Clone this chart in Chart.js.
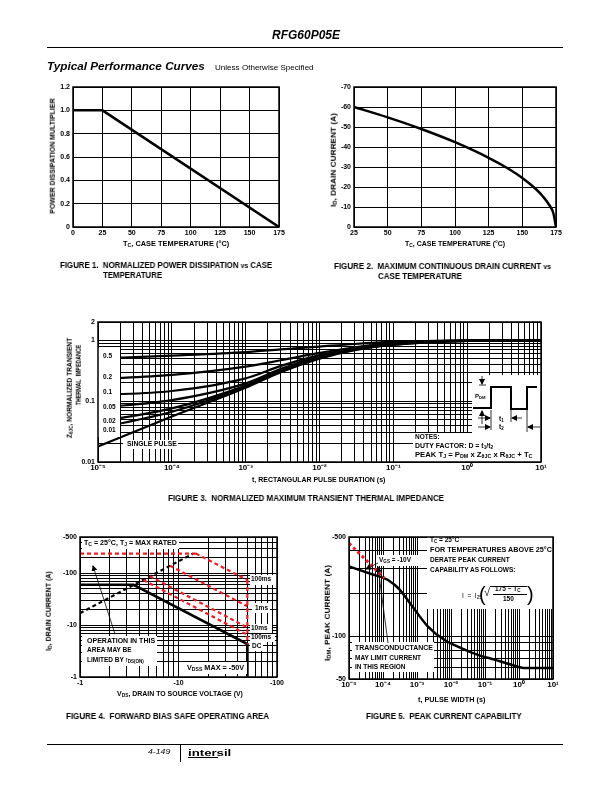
<!DOCTYPE html>
<html>
<head>
<meta charset="utf-8">
<script src="https://cdn.jsdelivr.net/npm/chart.js@4.4.0/dist/chart.umd.min.js"></script>
<style>
  body { margin:0; width:612px; height:792px; position:relative; background:#fff; overflow:hidden;
         font-family:"Liberation Sans", Arial, sans-serif; color:#000; }
  canvas { position:absolute; z-index:1; }
  .t { position:absolute; z-index:3; white-space:nowrap; line-height:1; transform-origin:0 0; will-change:transform; }
  .t sub { font-size:70%; vertical-align:-0.3em; line-height:0; }
  .t sup { font-size:65%; vertical-align:0.45em; line-height:0; }
  .rule { position:absolute; background:#000; z-index:3; }
  svg { position:absolute; left:0; top:0; z-index:2; }
</style>
</head>
<body>
<script>
// ---- figure 1: power dissipation multiplier vs case temperature
const fig1Temp = [0, 25, 175];
const fig1Mult = [1.0, 1.0, 0];
const fig1XVals = [0, 25, 50, 75, 100, 125, 150, 175];
const fig1XTicks = ['0', '25', '50', '75', '100', '125', '150', '175'];
const fig1YVals = [0, 0.2, 0.4, 0.6, 0.8, 1.0, 1.2];
const fig1YTicks = ['0', '0.2', '0.4', '0.6', '0.8', '1.0', '1.2'];

// ---- figure 2: max continuous drain current vs case temperature
const fig2Temp = [25, 50, 75, 100, 125, 140, 150, 160, 165, 170, 173, 175];
const fig2Current = [-60, -54.8, -49, -42.4, -34.6, -29, -24.5, -19, -15.5, -11, -7, 0];
const fig2XVals = [25, 50, 75, 100, 125, 150, 175];
const fig2XTicks = ['25', '50', '75', '100', '125', '150', '175'];
const fig2YVals = [-70, -60, -50, -40, -30, -20, -10, 0];
const fig2YTicks = ['-70', '-60', '-50', '-40', '-30', '-20', '-10', '0'];

// ---- figure 3: normalized transient thermal impedance
const fig3Time = [1e-5, 1e-4, 1e-3, 3e-3, 1e-2, 3e-2, 1e-1, 1, 10];
const fig3D05 = [0.50, 0.56, 0.64, 0.71, 0.79, 0.87, 0.94, 1.0, 1.0];
const fig3D02 = [0.23, 0.27, 0.37, 0.47, 0.62, 0.77, 0.90, 0.99, 1.0];
const fig3D01 = [0.126, 0.147, 0.237, 0.38, 0.57, 0.74, 0.88, 0.99, 1.0];
const fig3D005 = [0.078, 0.104, 0.196, 0.34, 0.54, 0.72, 0.87, 0.98, 1.0];
const fig3D002 = [0.046, 0.076, 0.18, 0.32, 0.52, 0.71, 0.86, 0.98, 1.0];
const fig3D001 = [0.036, 0.067, 0.173, 0.31, 0.51, 0.70, 0.85, 0.98, 1.0];
const fig3Single = [0.018, 0.056, 0.166, 0.30, 0.50, 0.69, 0.84, 0.98, 1.0];
const fig3XVals = [1e-5, 1e-4, 1e-3, 1e-2, 1e-1, 1, 10];
const fig3XTicks = ['10⁻⁵', '10⁻⁴', '10⁻³', '10⁻²', '10⁻¹', '10⁰', '10¹'];
const fig3YVals = [0.01, 0.1, 1, 2];
const fig3YTicks = ['0.01', '0.1', '1', '2'];

// ---- figure 4: forward bias safe operating area (V, A)
const fig4DcV = [1, 3.5, 50, 50];
const fig4DcI = [-60, -60, -4.3, -1];
const fig4RdsV = [1, 14];
const fig4RdsI = [-17, -238];
const fig4MaxV = [1, 15];
const fig4MaxI = [-240, -240];
const fig4Us100V = [15, 50];
const fig4Us100I = [-240, -74];
const fig4Ms1V = [8.2, 50];
const fig4Ms1I = [-140, -23];
const fig4Ms10V = [5.1, 50];
const fig4Ms10I = [-88, -9];
const fig4Ms100V = [4.4, 50];
const fig4Ms100I = [-74, -6.5];
const fig4VdssV = [50, 50];
const fig4VdssI = [-74, -4.3];
const fig4XVals = [1, 10, 100];
const fig4XTicks = ['-1', '-10', '-100'];
const fig4YVals = [1, 10, 100, 500];
const fig4YTicks = ['-1', '-10', '-100', '-500'];

// ---- figure 5: peak current capability
const fig5Time = [1e-5, 5e-5, 1.1e-4, 1.4e-4, 3e-4, 6.8e-4, 2.1e-3, 6.5e-3, 2e-2, 6.2e-2, 0.19, 0.6, 1.5, 10];
const fig5Current = [-310, -272, -256, -249, -215, -166, -117, -94, -82.6, -74, -68.4, -63, -59.7, -59.7];
const fig5GfsTime = [1e-5, 1.1e-4];
const fig5GfsCurrent = [-452, -256];
const fig5XVals = [1e-5, 1e-4, 1e-3, 1e-2, 1e-1, 1, 10];
const fig5XTicks = ['10⁻⁵', '10⁻⁴', '10⁻³', '10⁻²', '10⁻¹', '10⁰', '10¹'];
const fig5YVals = [50, 100, 500];
const fig5YTicks = ['-50', '-100', '-500'];

const RED = '#ee1c24';
const PAD = { l: 36, t: 8, r: 14, b: 16 };
const FONT = '"Liberation Sans", Arial, sans-serif';

function logGrid(min, max) {
  const out = [];
  for (let e = Math.floor(Math.log10(min)); e <= Math.ceil(Math.log10(max)); e++) {
    for (let k = 1; k < 10; k++) {
      const v = +(k * Math.pow(10, e)).toPrecision(6);
      if (v >= min * 0.999999 && v <= max * 1.000001) out.push(v);
    }
  }
  return out;
}

function labeler(vals, labels, log) {
  return v => {
    const i = vals.findIndex(t => log ? Math.abs(Math.log10(t) - Math.log10(v)) < 1e-6 : Math.abs(t - v) < 1e-9);
    return i < 0 ? '' : labels[i];
  };
}

function axis(type, min, max, grid, labelFn, isY, pad, extra, fsize) {
  return Object.assign({
    type, min, max,
    afterBuildTicks: s => { s.ticks = grid.map(v => ({ value: v })); },
    afterFit: s => { if (isY) s.width = PAD.l; else s.height = PAD.b; },
    grid: { color: '#000', lineWidth: 1, drawTicks: false },
    border: { display: false },
    ticks: {
      autoSkip: false, maxRotation: 0, padding: pad, color: '#000',
      font: { family: FONT, weight: 'bold', size: fsize || 7 },
      callback: v => labelFn(v)
    }
  }, extra || {});
}

function series(xs, ys, color, width, dash, smooth) {
  return {
    data: xs.map((x, i) => ({ x, y: ys[i] })),
    borderColor: color, borderWidth: width, borderDash: dash || [],
    pointRadius: 0, fill: false, tension: 0,
    cubicInterpolationMode: smooth ? 'monotone' : 'default'
  };
}

const framePlugin = {
  id: 'frame',
  afterDatasetsDraw(chart) {
    const a = chart.chartArea, c = chart.ctx;
    c.save(); c.strokeStyle = '#000'; c.lineWidth = 1.5;
    c.strokeRect(a.left, a.top, a.right - a.left, a.bottom - a.top);
    c.restore();
  }
};

// white label boxes: drawn over the grid and the curve ends, under the frame
function maskPlugin(rects, ox, oy) {
  return {
    id: 'mask',
    afterDatasetsDraw(chart) {
      const c = chart.ctx;
      c.save(); c.fillStyle = '#fff';
      rects.forEach(r => c.fillRect(r[0] - ox, r[1] - oy, r[2] - r[0], r[3] - r[1]));
      c.restore();
    }
  };
}

function plotChart(box, xScale, yScale, datasets, masks) {
  const W = box.w + PAD.l + PAD.r, H = box.h + PAD.t + PAD.b;
  const cv = document.createElement('canvas');
  cv.width = W; cv.height = H;
  cv.style.left = (box.l - PAD.l) + 'px';
  cv.style.top = (box.t - PAD.t) + 'px';
  cv.style.width = W + 'px';
  cv.style.height = H + 'px';
  document.body.appendChild(cv);
  return new Chart(cv, {
    type: 'line',
    data: { datasets },
    options: {
      responsive: false, animation: false, events: [],
      layout: { autoPadding: false, padding: { left: 0, top: PAD.t, right: PAD.r, bottom: 0 } },
      plugins: { legend: { display: false }, tooltip: { enabled: false } },
      scales: { x: xScale, y: yScale }
    },
    plugins: [maskPlugin(masks || [], box.l - PAD.l, box.t - PAD.t), framePlugin]
  });
}

const abs = a => a.map(v => Math.abs(v));

// figure 1
plotChart({ l: 73, t: 87, w: 206, h: 140 },
  axis('linear', 0, 175, fig1XVals, labeler(fig1XVals, fig1XTicks), false, 2),
  axis('linear', 0, 1.2, fig1YVals, labeler(fig1YVals, fig1YTicks), true, 3),
  [series(fig1Temp, fig1Mult, '#000', 2.5)]);

// figure 2
plotChart({ l: 354, t: 87, w: 202, h: 140 },
  axis('linear', 25, 175, fig2XVals, labeler(fig2XVals, fig2XTicks), false, 2),
  axis('linear', -70, 0, fig2YVals, labeler(fig2YVals, fig2YTicks), true, 3, { reverse: true }),
  [series(fig2Temp, fig2Current, '#000', 2.5, null, true)]);

// figure 3
plotChart({ l: 98, t: 322, w: 443, h: 140 },
  axis('logarithmic', 1e-5, 10, logGrid(1e-5, 10), labeler(fig3XVals, fig3XTicks, true), false, 1, null, 8),
  axis('logarithmic', 0.01, 2, logGrid(0.01, 2), labeler(fig3YVals, fig3YTicks, true), true, 3),
  [fig3D05, fig3D02, fig3D01, fig3D005, fig3D002, fig3D001, fig3Single]
    .map(z => series(fig3Time, z, '#000', 2.2, null, true)),
  [[98, 348, 120, 437], [123, 440, 178, 449], [472, 375, 541, 433], [413, 433, 541, 462]]);

// figure 4
plotChart({ l: 80, t: 537, w: 197, h: 140 },
  axis('logarithmic', 1, 100, logGrid(1, 100), labeler(fig4XVals, fig4XTicks, true), false, 2),
  axis('logarithmic', 1, 500, logGrid(1, 500), labeler(fig4YVals, fig4YTicks, true), true, 3),
  [
    series(fig4MaxV, abs(fig4MaxI), RED, 2.2, [4, 3]),
    series(fig4Us100V, abs(fig4Us100I), RED, 2.2, [4, 3]),
    series(fig4Ms1V, abs(fig4Ms1I), RED, 2.2, [4, 3]),
    series(fig4Ms10V, abs(fig4Ms10I), RED, 2.2, [4, 3]),
    series(fig4Ms100V, abs(fig4Ms100I), RED, 2.2, [4, 3]),
    series(fig4VdssV, abs(fig4VdssI), RED, 2.2, [4, 3]),
    series(fig4RdsV, abs(fig4RdsI), '#000', 2.2, [4, 3]),
    series(fig4DcV, abs(fig4DcI), '#000', 2.7)
  ],
  [[82, 538, 179, 549], [82, 636, 157, 666], [183, 662, 247, 674],
   [250, 575, 277, 585], [252, 603, 270, 613], [250, 624, 272, 633], [250, 634, 275, 642], [250, 642, 263, 651]]);

// figure 5
plotChart({ l: 349, t: 537, w: 204, h: 142 },
  axis('logarithmic', 1e-5, 10, logGrid(1e-5, 10), labeler(fig5XVals, fig5XTicks, true), false, 1, null, 8),
  axis('logarithmic', 50, 500, logGrid(50, 500), labeler(fig5YVals, fig5YTicks, true), true, 3),
  [
    series(fig5GfsTime, abs(fig5GfsCurrent), RED, 3, [3, 3]),
    series(fig5Time, abs(fig5Current), '#000', 2.5, null, true)
  ],
  [[427, 537, 553, 609], [376, 555, 426, 566], [352, 642, 434, 672]]);

// ---- text layer
function txt(html, x, y, o) {
  o = o || {};
  const size = o.size || 6.5;
  const el = document.createElement('span');
  el.className = 't';
  el.innerHTML = html;
  el.style.fontSize = size + 'px';
  el.style.fontWeight = o.nb ? 'normal' : 'bold';
  el.style.fontStyle = o.it ? 'italic' : 'normal';
  if (o.narrow) el.style.fontFamily = '"Liberation Sans Narrow", "Liberation Sans", Arial, sans-serif';
  document.body.appendChild(el);
  const w = el.offsetWidth, h = el.offsetHeight;
  const s = o.w ? o.w / w : 1;
  if (o.rot) {
    el.style.left = x + 'px'; el.style.top = y + 'px';
    el.style.transform = `rotate(-90deg) scaleX(${s}) translate(-50%,-50%)`;
  } else {
    const left = o.anchor === 'c' ? x - w * s / 2 : x;
    el.style.left = left + 'px'; el.style.top = (y - h / 2) + 'px';
    el.style.transform = `scaleX(${s})`;
  }
  return el;
}
function rule(l, t, w, h) {
  const d = document.createElement('div');
  d.className = 'rule';
  Object.assign(d.style, { left: l + 'px', top: t + 'px', width: w + 'px', height: h + 'px' });
  document.body.appendChild(d);
}

// page header / footer
txt('RFG60P05E', 306, 35, { size: 12, it: true, anchor: 'c', w: 68 });
rule(47, 47, 516, 1);
txt('Typical Performance Curves', 47, 67, { size: 11.5, it: true, w: 158 });
txt('Unless Otherwise Specified', 215, 68, { size: 6.5, nb: true, w: 98 });
rule(47, 744, 516, 1);
rule(180, 745, 1, 17);
txt('4-149', 148, 752, { size: 7.5, it: true, nb: true, w: 22 });
txt('intersil', 188, 753, { size: 9, w: 44 });
rule(188, 757, 30, 1.2);

// figure 1 text
txt('POWER DISSIPATION MULTIPLIER', 53, 156, { rot: true, w: 115 });
txt('T<sub>C</sub>, CASE TEMPERATURE (°C)', 176, 244.5, { anchor: 'c', w: 106 });
txt('FIGURE 1.&nbsp; NORMALIZED POWER DISSIPATION <span style="font-size:85%">vs</span> CASE', 60, 265.5, { size: 8.5, narrow: true, w: 212 });
txt('TEMPERATURE', 103, 275.5, { size: 8.5, narrow: true, w: 59 });

// figure 2 text
txt('I<sub>D</sub>, DRAIN CURRENT (A)', 334, 160, { rot: true, w: 94 });
txt('T<sub>C</sub>, CASE TEMPERATURE (°C)', 455, 244.5, { anchor: 'c', w: 100 });
txt('FIGURE 2.&nbsp; MAXIMUM CONTINUOUS DRAIN CURRENT <span style="font-size:85%">vs</span>', 334, 266, { size: 8.5, narrow: true, w: 217 });
txt('CASE TEMPERATURE', 378, 276, { size: 8.5, narrow: true, w: 84 });

// figure 3 text
txt('Z<sub>θJC</sub>, NORMALIZED TRANSIENT', 70, 388, { rot: true, w: 100 });
txt('THERMAL&nbsp; IMPEDANCE', 79, 375, { rot: true, w: 60 });
txt('t, RECTANGULAR PULSE DURATION (s)', 318, 480, { anchor: 'c', w: 133 });
txt('FIGURE 3.&nbsp; NORMALIZED MAXIMUM TRANSIENT THERMAL IMPEDANCE', 168, 498, { size: 8.5, narrow: true, w: 276 });
const fig3Duty = ['0.5', '0.2', '0.1', '0.05', '0.02', '0.01'];
const fig3DutyY = [356, 377.5, 392.5, 407.5, 421, 430.5];
fig3Duty.forEach((d, i) => txt(d, 103, fig3DutyY[i], {}));
txt('SINGLE PULSE', 127, 444.5, { w: 50 });
txt('NOTES:', 415, 437.5, {});
txt('DUTY FACTOR: D = t<sub>1</sub>/t<sub>2</sub>', 415, 446, { w: 78 });
txt('PEAK T<sub>J</sub> = P<sub>DM</sub> x Z<sub>θJC</sub> x R<sub>θJC</sub> + T<sub>C</sub>', 415, 455, { w: 118 });
txt('P<sub>DM</sub>', 475, 396, { size: 6 });
txt('t<sub>1</sub>', 499, 419, { size: 6.5 });
txt('t<sub>2</sub>', 499, 427.5, { size: 6.5 });

// figure 4 text
txt('I<sub>D</sub>, DRAIN CURRENT (A)', 48.5, 611, { rot: true, w: 80 });
txt('V<sub>DS</sub>, DRAIN TO SOURCE VOLTAGE (V)', 180, 694, { anchor: 'c', w: 126 });
txt('FIGURE 4.&nbsp; FORWARD BIAS SAFE OPERATING AREA', 66, 716, { size: 8.5, narrow: true, w: 203 });
txt('T<sub>C</sub> = 25°C, T<sub>J</sub> = MAX RATED', 84, 543, { w: 93 });
txt('OPERATION IN THIS', 87, 641.5, { w: 68 });
txt('AREA MAY BE', 87, 650.5, {});
txt('LIMITED BY <span style="font-weight:normal">r</span><sub>DS(ON)</sub>', 87, 660, {});
txt('V<sub>DSS</sub> MAX = -50V', 187, 668, { w: 57 });
txt('100ms', 250.5, 579.5, {});
txt('1ms', 255, 608, {});
txt('10ms', 250.5, 628.5, {});
txt('100ms', 250.5, 637.5, {});
txt('DC', 252, 646, {});

// figure 5 text
txt('I<sub>DM</sub>, PEAK CURRENT (A)', 328, 613, { rot: true, w: 96 });
txt('t, PULSE WIDTH (s)', 451, 700, { anchor: 'c', w: 67 });
txt('FIGURE 5.&nbsp; PEAK CURRENT CAPABILITY', 366, 716, { size: 8.5, narrow: true, w: 156 });
txt('T<sub>C</sub> = 25°C', 430, 540.5, {});
txt('FOR TEMPERATURES ABOVE 25°C', 430, 550, { w: 122 });
txt('DERATE PEAK CURRENT', 430, 560, {});
txt('CAPABILITY AS FOLLOWS:', 430, 570.3, {});
txt('V<sub>GS</sub> = -10V', 379, 560.5, {});
txt('TRANSCONDUCTANCE', 355, 648.5, { w: 78 });
txt('MAY LIMIT CURRENT', 355, 658, {});
txt('IN THIS REGION', 355, 667, {});
txt('I&nbsp; =&nbsp; I<sub>25</sub>', 462, 596, { size: 6.5, nb: true });
txt('(', 479, 594, { size: 20, nb: true });
txt('√', 484, 592, { size: 11, nb: true });
txt('175 − T<sub>C</sub>', 495, 589.5, { size: 6.5 });
txt('150', 503, 599, { size: 6.5 });
txt(')', 527, 594, { size: 20, nb: true });
rule(490, 586, 37, 0.8);
rule(493, 593.5, 34, 0.8);
</script>
<svg width="612" height="792" viewBox="0 0 612 792" style="z-index:4">
  <defs>
    <marker id="ah" markerWidth="6" markerHeight="6" refX="5" refY="3" orient="auto" markerUnits="userSpaceOnUse">
      <path d="M0,0 L6,3 L0,6 z" fill="#000"/>
    </marker>
  </defs>
  <!-- pulse inset -->
  <polyline points="473,408 491,408 491,387 511,387 511,409 527,409 527,387 537,387" fill="none" stroke="#000" stroke-width="2"/>
  <line x1="479" y1="385" x2="486" y2="385" stroke="#000" stroke-width="0.8"/>
  <line x1="482" y1="376" x2="482" y2="384" stroke="#000" stroke-width="0.8" marker-end="url(#ah)"/>
  <line x1="482" y1="424" x2="482" y2="411" stroke="#000" stroke-width="0.8" marker-end="url(#ah)"/>
  <line x1="491" y1="410" x2="491" y2="430" stroke="#000" stroke-width="0.8"/>
  <line x1="511" y1="410" x2="511" y2="422" stroke="#000" stroke-width="0.8"/>
  <line x1="527" y1="410" x2="527" y2="432" stroke="#000" stroke-width="0.8"/>
  <line x1="478" y1="418" x2="490" y2="418" stroke="#000" stroke-width="0.8" marker-end="url(#ah)"/>
  <line x1="522" y1="418" x2="512" y2="418" stroke="#000" stroke-width="0.8" marker-end="url(#ah)"/>
  <line x1="478" y1="427" x2="490" y2="427" stroke="#000" stroke-width="0.8" marker-end="url(#ah)"/>
  <line x1="540" y1="427" x2="528" y2="427" stroke="#000" stroke-width="0.8" marker-end="url(#ah)"/>
  <!-- figure 4 arrow -->
  <line x1="115" y1="634" x2="93" y2="566" stroke="#000" stroke-width="0.8" marker-end="url(#ah)"/>
  <!-- figure 5 arrows -->
  <line x1="388" y1="643" x2="378" y2="567" stroke="#000" stroke-width="0.8" marker-end="url(#ah)"/>
  <line x1="378" y1="563" x2="366" y2="569" stroke="#000" stroke-width="0.8" marker-end="url(#ah)"/>
</svg>
</body>
</html>
